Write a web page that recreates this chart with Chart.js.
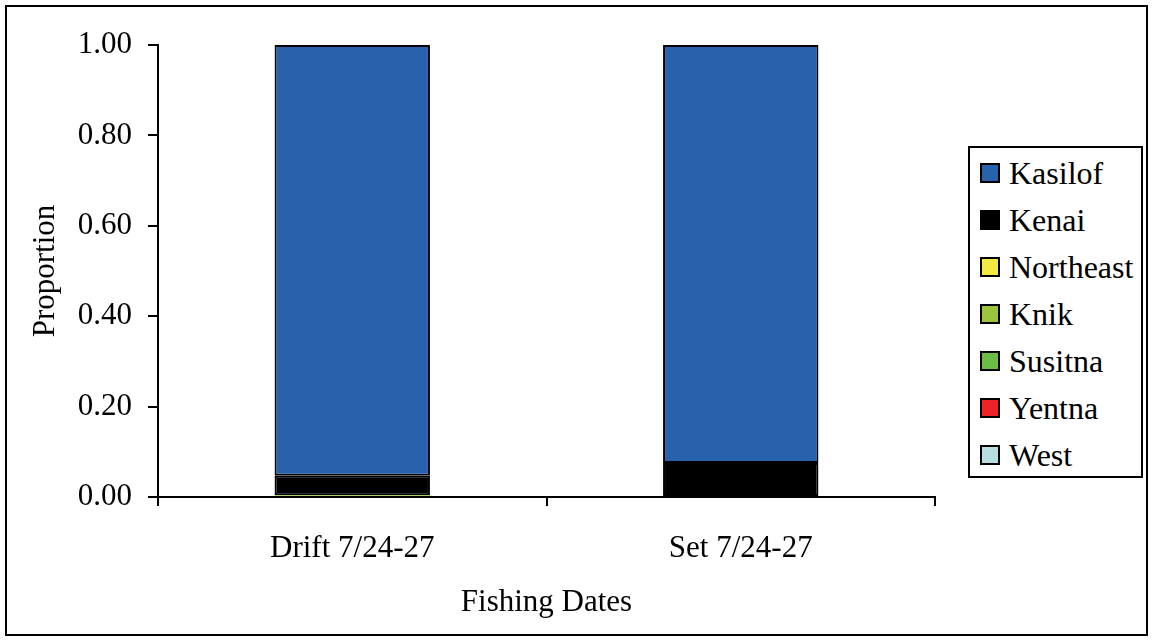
<!DOCTYPE html>
<html>
<head>
<meta charset="utf-8">
<script src="https://cdn.jsdelivr.net/npm/chart.js@4/dist/chart.umd.min.js"></script>
<style>
  html, body { margin:0; padding:0; background:#fff; }
  body { width:1153px; height:641px; position:relative; overflow:hidden; font-family:"Liberation Serif","Times New Roman",serif; }
  #frame { position:absolute; left:5px; top:5px; width:1139px; height:627px; border:2px solid #000; }
  #wrap { position:absolute; left:0; top:0; width:1153px; height:641px; }
  #legend { position:absolute; left:968px; top:146px; width:171px; height:328px; border:2px solid #000; background:#fff; }
  .item { position:absolute; left:10px; height:40px; display:flex; align-items:center; font-size:32px; color:#000; white-space:nowrap; }
  .sw { width:16px; height:16px; border:2px solid #000; margin-right:9px; flex:none; }
</style>
</head>
<body>
<div id="frame"></div>
<div id="wrap"><canvas id="c"></canvas></div>
<div id="legend"></div>
<script>
const categories = ["Drift 7/24-27", "Set 7/24-27"];
const seriesNames = ["Kasilof", "Kenai", "Northeast", "Knik", "Susitna", "Yentna", "West"];
const seriesColors = ["#2962AC", "#000000", "#F2EA42", "#9CC43C", "#6CBD45", "#EE2326", "#B8DEE2"];
const kasilof   = [0.953, 0.925];
const kenai     = [0.043, 0.075];
const northeast = [0.000, 0.000];
const knik      = [0.004, 0.000];
const susitna   = [0.000, 0.000];
const yentna    = [0.000, 0.000];
const west      = [0.000, 0.000];
const yTicks = [0, 0.2, 0.4, 0.6, 0.8, 1.0];

const seriesValues = [kasilof, kenai, northeast, knik, susitna, yentna, west];
const FONT = "'Liberation Serif','Times New Roman',serif";

// stack bottom-up: reverse order of legend
const datasets = seriesNames.map((n, i) => ({
  label: n,
  data: seriesValues[i],
  backgroundColor: seriesColors[i],
  borderColor: "#000",
  borderWidth: ctx => (ctx.raw > 0.01 ? 2 : 0),
  borderSkipped: false,
  categoryPercentage: 1.0,
  barPercentage: 0.4
})).reverse();

// HTML legend
const lg = document.getElementById('legend');
seriesNames.forEach((n, i) => {
  const d = document.createElement('div');
  d.className = 'item';
  d.style.top = (5 + i * 47) + 'px';
  d.innerHTML = '<span class="sw" style="background:' + seriesColors[i] + '"></span><span>' + n + '</span>';
  lg.appendChild(d);
});

new Chart(document.getElementById('c'), {
  type: 'bar',
  data: { labels: categories, datasets },
  options: {
    responsive: true,
    maintainAspectRatio: false,
    animation: false,
    layout: { padding: { left: 10, right: 218, top: 45, bottom: 10 } },
    plugins: { legend: { display: false }, tooltip: { enabled: false } },
    scales: {
      x: {
        stacked: true,
        afterFit: s => { s.height = 134; },
        grid: { display: true, drawOnChartArea: false, drawTicks: true, tickLength: 9, color: '#000', lineWidth: 2, offset: true },
        border: { display: true, color: '#000', width: 2 },
        ticks: { color: '#000', font: { family: FONT, size: 31 }, padding: 24, maxRotation: 0 },
        title: { display: true, text: 'Fishing Dates', color: '#000', font: { family: FONT, size: 31 }, padding: { top: 0, bottom: 10 } }
      },
      y: {
        stacked: true,
        min: 0, max: 1,
        afterFit: s => { s.width = 148; },
        afterBuildTicks: s => { s.ticks = yTicks.map(v => ({ value: v })); },
        grid: { display: true, drawOnChartArea: false, drawTicks: true, tickLength: 10, color: '#000', lineWidth: 2 },
        border: { display: true, color: '#000', width: 2 },
        ticks: { color: '#000', font: { family: FONT, size: 31 }, padding: 16, callback: v => Number(v).toFixed(2) },
        title: { display: true, text: 'Proportion', color: '#000', font: { family: FONT, size: 31 }, padding: { top: 17, bottom: 0 } }
      }
    }
  }
});
</script>
</body>
</html>
